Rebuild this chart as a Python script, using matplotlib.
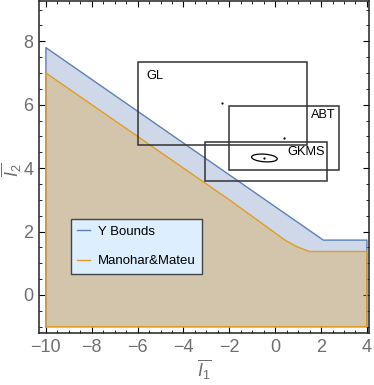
import matplotlib
matplotlib.use("Agg")
import matplotlib.pyplot as plt
from matplotlib.patches import Rectangle, Ellipse
from matplotlib.lines import Line2D
from matplotlib.ticker import MultipleLocator

plt.rcParams['font.family'] = ['Liberation Sans', 'DejaVu Sans']
plt.rcParams['mathtext.fontset'] = 'custom'
plt.rcParams['mathtext.rm'] = 'Liberation Sans'
plt.rcParams['mathtext.it'] = 'Liberation Sans:italic'

# Region boundaries
ybounds_x = [-10, 2.1, 4]
ybounds_y = [7.8, 1.73, 1.73]
mm_x = [-10, -2.0, 0.45, 0.95, 1.5, 4]
mm_y = [7.0, 3.0, 1.72, 1.52, 1.37, 1.37]
region_bottom = -1.0

# Boxes
box_labels = ["GL", "ABT", "GKMS"]
box_x0 = [-6.0, -2.0, -3.04]
box_x1 = [1.38, 2.78, 2.27]
box_y0 = [4.74, 3.94, 3.59]
box_y1 = [7.35, 5.95, 4.83]
point_x = [-2.33, 0.38, -0.47]
point_y = [6.06, 4.94, 4.32]
label_x = [-5.6, 1.56, 0.51]
label_y = [6.92, 5.68, 4.5]

blue = '#5e81b5'
orange = '#e19c24'
gray = '#6e6e6e'

fig = plt.figure(figsize=(3.74, 3.85), dpi=100)
ax = fig.add_axes([0.1043, 0.135, 0.8823, 0.8624])

# Y Bounds region
px = [ybounds_x[0]] + ybounds_x + [ybounds_x[-1], ybounds_x[0]]
py = [region_bottom] + ybounds_y + [region_bottom, region_bottom]
ax.fill(px, py, facecolor=blue, alpha=0.3, edgecolor='none', zorder=1)
ax.plot(px, py, color=blue, lw=1.0, zorder=2)

# Manohar&Mateu region
qx = [mm_x[0]] + mm_x + [mm_x[-1], mm_x[0]]
qy = [region_bottom] + mm_y + [region_bottom, region_bottom]
ax.fill(qx, qy, facecolor=orange, alpha=0.3, edgecolor='none', zorder=3)
ax.plot(qx, qy, color=orange, lw=1.0, zorder=4)

# Boxes
for lab, x0, x1, y0, y1, ppx, ppy, lx, ly in zip(box_labels, box_x0, box_x1, box_y0, box_y1,
                                                 point_x, point_y, label_x, label_y):
    ax.add_patch(Rectangle((x0, y0), x1 - x0, y1 - y0, fill=False, edgecolor='#333333',
                           lw=1.1, zorder=5))
    ax.plot([ppx], [ppy], marker='o', ms=1.6, mew=0, color='black', zorder=6)
    ax.text(lx, ly, lab, fontsize=9.2, color='black', ha='left', va='center', zorder=6)

ax.add_patch(Ellipse((point_x[2], point_y[2]), 1.12, 0.24, angle=-3, fill=False,
                     edgecolor='black', lw=0.9, zorder=6))

ax.set_xlim(-10.3, 4.09)
ax.set_ylim(-1.2, 9.27)

ax.xaxis.set_major_locator(MultipleLocator(2))
ax.xaxis.set_minor_locator(MultipleLocator(0.5))
ax.yaxis.set_major_locator(MultipleLocator(2))
ax.yaxis.set_minor_locator(MultipleLocator(0.5))
ax.tick_params(which='both', direction='in', top=True, right=True, color='black')
ax.tick_params(which='major', length=4, width=0.8, labelsize=13, labelcolor=gray, pad=4)
ax.tick_params(which='minor', length=2, width=0.6)
ax.set_xticks([-10, -8, -6, -4, -2, 0, 2, 4])
ax.set_xticklabels(['\u221210', '\u22128', '\u22126', '\u22124', '\u22122', '0', '2', '4'])
ax.set_yticks([0, 2, 4, 6, 8])
for s in ax.spines.values():
    s.set_linewidth(1.1)
    s.set_color('#222222')

ax.set_xlabel(r'$\overline{I_1}$', fontsize=13, color=gray, labelpad=1)
fig.text(11 / 374, 1 - 170 / 385, r'$\overline{I_2}$', fontsize=13, color=gray,
         rotation=90, ha='center', va='center')

handles = [Line2D([], [], color=blue, lw=1.0), Line2D([], [], color=orange, lw=1.0)]
leg = ax.legend(handles, ['Y Bounds', 'Manohar&Mateu'], loc='upper left',
                bbox_to_anchor=((70.7 - 39) / 330, (333 - 219) / 332), fontsize=9.5,
                frameon=True, fancybox=False, handlelength=1.0, handletextpad=0.55,
                labelspacing=1.3, borderpad=0.5, borderaxespad=0)
leg.get_frame().set_facecolor('#ddeeff')
leg.get_frame().set_edgecolor('#444444')
leg.get_frame().set_linewidth(1.0)
leg.get_frame().set_alpha(1)
leg.set_zorder(7)

fig.savefig('out.png', dpi=100)
